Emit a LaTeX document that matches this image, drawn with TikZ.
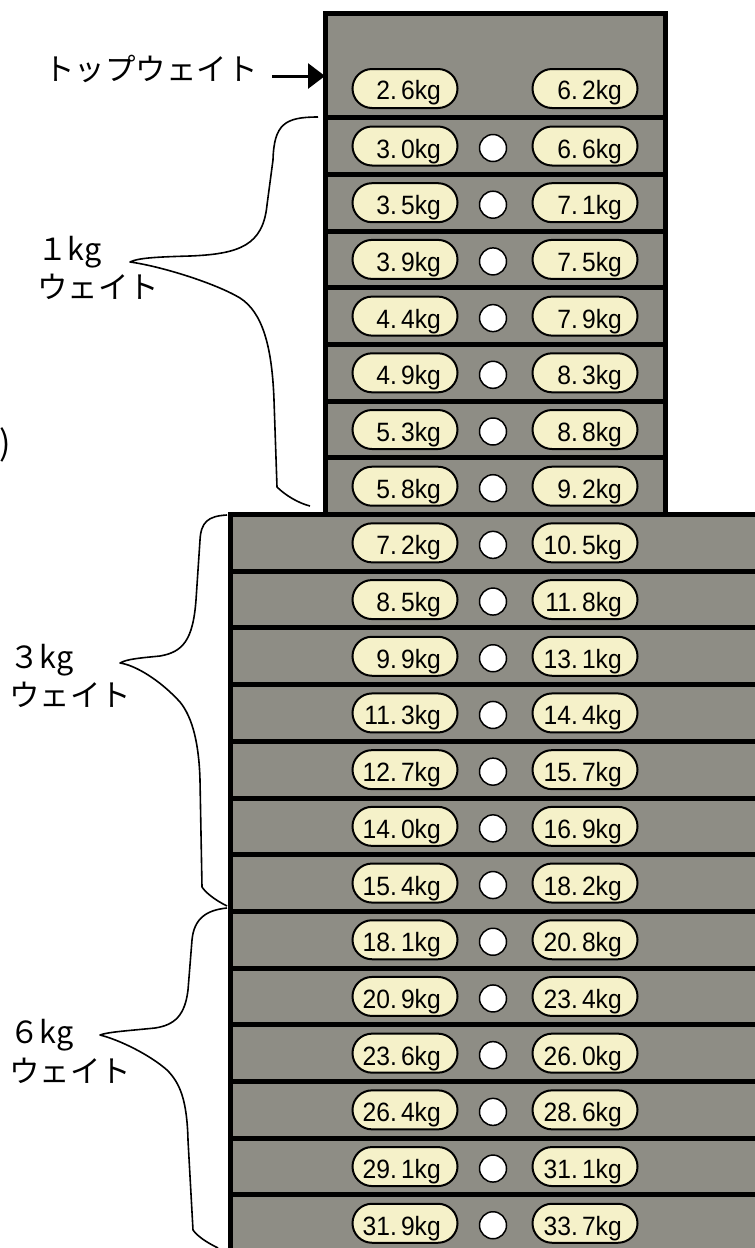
\documentclass[tikz,border=0pt]{standalone}
\usepackage{graphicx}
\usepackage{fontspec}
\setmainfont{Liberation Sans}
\newfontfamily\jp{Noto Sans CJK JP}
\usetikzlibrary{arrows.meta,shapes.misc}
\definecolor{plategray}{RGB}{142,141,133}
\definecolor{pillcream}{RGB}{245,241,201}
\newcommand{\wt}[2]{\scalebox{0.93}[1]{#1.\kern4.5pt#2kg}}
\begin{document}
\begin{tikzpicture}[x=1pt,y=-1pt,
  block/.style={draw=black, fill=plategray, line width=5pt, inner sep=0pt, outer sep=0pt, rectangle},
  sep/.style={draw=black, line width=5pt},
  pill/.style={rounded rectangle, draw=black, fill=pillcream, line width=2pt, minimum width=105pt, minimum height=39pt, inner sep=0pt},
  hole/.style={circle, draw=black, fill=white, line width=1.5pt, minimum size=27pt, inner sep=0pt},
  pilltext/.style={font=\fontsize{26.5}{26.5}\selectfont, inner sep=0pt, anchor=base east},
  lbl/.style={font=\jp\fontsize{30.5}{30.5}\selectfont, inner sep=0pt, anchor=base west},
  brace/.style={draw=black, line width=1.6pt, line join=round},
  ptr/.style={draw=black, line width=3pt, -{Triangle[length=17pt,width=25pt]}}
]
\useasboundingbox (0,0) rectangle (755,1248);
\begin{scope}
\clip (0,0) rectangle (755,1248);
\node[block, anchor=north west, minimum width=340pt, minimum height=501.5pt] (topblock) at (325,13) {};
\node[block, anchor=north west, minimum width=600pt, minimum height=800pt] (lowblock) at (230,514.5) {};
\foreach \k in {0,...,6} {
  \pgfmathsetmacro\yy{117.6+56.7*\k}
  \draw[sep] (325,\yy) -- (665,\yy);
}
\foreach \k in {1,...,12} {
  \pgfmathsetmacro\yy{514.5+56.7*\k}
  \draw[sep] (230,\yy) -- (800,\yy);
}
% top plate
\node[pill] (LP) at (405,88.5) {};
\node[pilltext] (LPT) at (441,99.5) {\wt{2}{6}};
\node[pill] (RP) at (585,88.5) {};
\node[pilltext] (RPT) at (622,99.5) {\wt{6}{2}};
% 1 kg plates
\foreach \a/\b/\c/\d [count=\i from 0] in {3/0/6/6, 3/5/7/1, 3/9/7/5, 4/4/7/9, 4/9/8/3, 5/3/8/8, 5/8/9/2} {
  \pgfmathsetmacro\yc{146+56.7*\i}
  \node[pill] (tL\i) at (405,\yc) {};
  \node[pilltext] (tLT\i) at (441,\yc+12) {\wt{\a}{\b}};
  \node[hole] (tC\i) at (493,\yc+2) {};
  \node[pill] (tR\i) at (585,\yc) {};
  \node[pilltext] (tRT\i) at (622,\yc+12) {\wt{\c}{\d}};
}
% 3 kg and 6 kg plates
\foreach \a/\b/\c/\d [count=\i from 0] in {7/2/10/5, 8/5/11/8, 9/9/13/1, 11/3/14/4, 12/7/15/7, 14/0/16/9, 15/4/18/2, 18/1/20/8, 20/9/23/4, 23/6/26/0, 26/4/28/6, 29/1/31/1, 31/9/33/7} {
  \pgfmathsetmacro\yc{542.85+56.7*\i}
  \node[pill] (bL\i) at (405,\yc) {};
  \node[pilltext] (bLT\i) at (441,\yc+12) {\wt{\a}{\b}};
  \node[hole] (bC\i) at (493,\yc+2) {};
  \node[pill] (bR\i) at (585,\yc) {};
  \node[pilltext] (bRT\i) at (622,\yc+12) {\wt{\c}{\d}};
}
% labels
\node[lbl] (toplabel) at (44,80) {トップウェイト};
\coordinate (arrowstart) at (272,76);
\draw[ptr] (arrowstart) -- (arrowstart -| topblock.west);
\node[lbl] (k1a) at (37,260) {１kg};
\node[lbl] (k1b) at (37,298) {ウェイト};
\node[lbl] (k3a) at (9,668) {３kg};
\node[lbl] (k3b) at (9,706) {ウェイト};
\node[lbl] (k6a) at (9,1043) {６kg};
\node[lbl] (k6b) at (9,1082) {ウェイト};
\node[lbl, font=\jp\fontsize{34}{34}\selectfont] (paren) at (-1,455) {)};
% braces
\draw[brace] (318,117) .. controls (285,117) and (274,124) .. (273,160) -- (267,205) .. controls (263,245) and (240,254) .. (190,256) .. controls (155,257) and (138,258) .. (130,262) .. controls (160,266) and (215,283) .. (240,298) .. controls (262,312) and (272,345) .. (274,400) -- (277,487) .. controls (285,495) and (298,503) .. (310,506);
\draw[brace] (227,515) .. controls (208,516) and (201,522) .. (200,540) -- (196,600) .. controls (193,640) and (183,652) .. (160,656) .. controls (140,658) and (127,659) .. (120,663) .. controls (135,665) and (160,680) .. (180,702) .. controls (193,718) and (199,745) .. (200,780) -- (202,887) .. controls (206,893) and (215,900) .. (227,906);
\draw[brace] (227,908) .. controls (207,910) and (194,918) .. (192,940) -- (188,990) .. controls (185,1015) and (175,1025) .. (155,1028) .. controls (125,1031) and (108,1032) .. (100,1035) .. controls (120,1040) and (150,1055) .. (167,1070) .. controls (180,1083) and (187,1100) .. (188,1140) -- (193,1230) .. controls (198,1237) and (208,1243) .. (218,1248);
\end{scope}
\end{tikzpicture}
\end{document}
